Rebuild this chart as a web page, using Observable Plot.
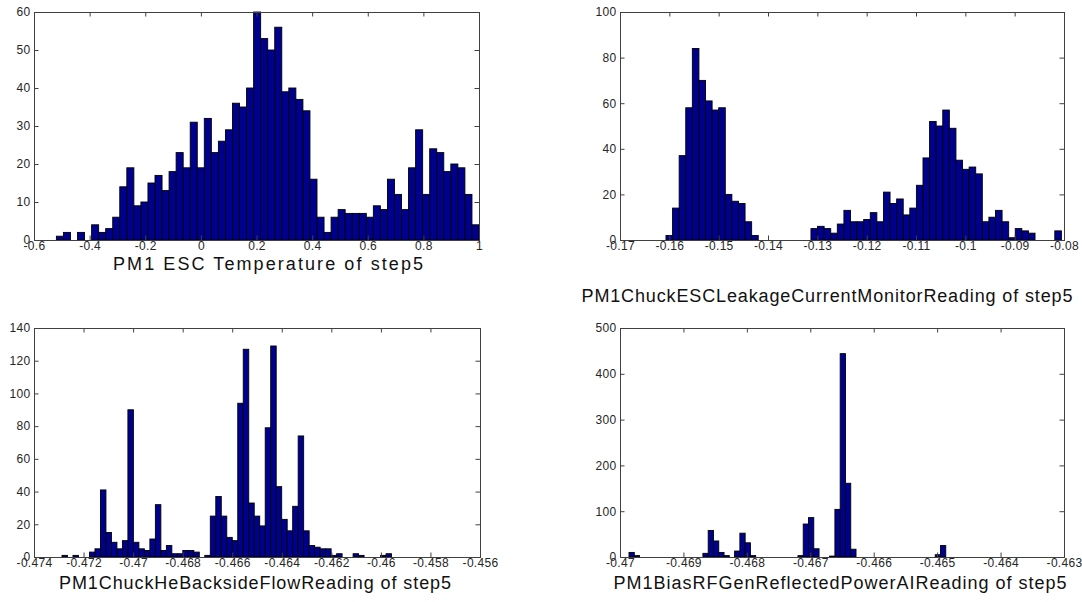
<!DOCTYPE html>
<html>
<head>
<meta charset="utf-8">
<script src="https://cdn.jsdelivr.net/npm/d3@7"></script>
<script src="https://cdn.jsdelivr.net/npm/@observablehq/plot@0.6"></script>
<style>
html, body { margin: 0; padding: 0; background: #fff; }
#chart { position: relative; width: 1082px; height: 602px; overflow: hidden; background: #fff; }
</style>
</head>
<body>
<div id="chart"></div>
<script>
// ---------- Panel 1: PM1 ESC Temperature ----------
const tempCounts = [1,2,0,2,0,4,2,3,6,14,19,9,10,15,17,13,18,23,19,31,19,32,23,26,29,36,35,40,60,53,50,56,39,40,37,34,16,6,2,6,8,7,7,7,6,9,8,16,12,8,19,29,12,24,23,18,20,19,12,4];
const tempBinRange = [-0.5195, 1.0];
const tempXDomain = [-0.6, 1];
const tempXTicks = [-0.6,-0.4,-0.2,0,0.2,0.4,0.6,0.8,1];
const tempXLabels = ["-0.6","-0.4","-0.2","0","0.2","0.4","0.6","0.8","1"];
const tempYTicks = [0,10,20,30,40,50,60];
const tempTitle = "PM1 ESC Temperature of step5";

// ---------- Panel 2: Leakage current ----------
const leakCounts = [2,14,37,58,84,70,61,57,58,20,17,16,8,2,0,0,0,0,0,0,0,0,5,6,5,3,7,13,8,8,9,12,8,21,16,18,11,14,24,36,52,50,57,49,35,31,32,29,8,10,13,8,1,5,4,3,0,0,0,4];
const leakBinRange = [-0.16068, -0.08053];
const leakXDomain = [-0.17, -0.08];
const leakXTicks = [-0.17,-0.16,-0.15,-0.14,-0.13,-0.12,-0.11,-0.10,-0.09,-0.08];
const leakXLabels = ["-0.17","-0.16","-0.15","-0.14","-0.13","-0.12","-0.11","-0.1","-0.09","-0.08"];
const leakYTicks = [0,20,40,60,80,100];
const leakTitle = "PM1ChuckESCLeakageCurrentMonitorReading of step5";

// ---------- Panel 3: He backside flow ----------
const flowCounts = [1,0,1,0,0,3,5,41,15,9,5,10,90,9,5,4,11,32,4,7,2,2,4,4,3,0,1,25,37,25,12,10,94,127,33,25,19,79,129,43,23,16,31,74,16,7,6,5,5,1,2,0,0,2,1,0,0,0,1,2];
const flowBinRange = [-0.47287, -0.45957];
const flowXDomain = [-0.474, -0.456];
const flowXTicks = [-0.474,-0.472,-0.470,-0.468,-0.466,-0.464,-0.462,-0.460,-0.458,-0.456];
const flowXLabels = ["-0.474","-0.472","-0.47","-0.468","-0.466","-0.464","-0.462","-0.46","-0.458","-0.456"];
const flowYTicks = [0,20,40,60,80,100,120,140];
const flowTitle = "PM1ChuckHeBacksideFlowReading of step5";

// ---------- Panel 4: Bias RF reflected power ----------
const rfCounts = [10,3,0,0,0,0,0,0,0,0,0,0,0,0,8,58,35,10,3,0,13,52,31,3,0,0,0,0,0,0,0,0,3,72,86,18,0,0,2,104,444,161,17,0,0,0,0,0,0,0,0,0,0,0,0,0,0,0,5,25];
const rfBinRange = [-0.469858, -0.464864];
const rfXDomain = [-0.47, -0.463];
const rfXTicks = [-0.470,-0.469,-0.468,-0.467,-0.466,-0.465,-0.464,-0.463];
const rfXLabels = ["-0.47","-0.469","-0.468","-0.467","-0.466","-0.465","-0.464","-0.463"];
const rfYTicks = [0,100,200,300,400,500];
const rfTitle = "PM1BiasRFGenReflectedPowerAIReading of step5";

// ---------- drawing ----------
const BAR = "#00008f";
const AX = "#404040";
const root = document.getElementById("chart");

function panel(p) {
  const mL = 42, mR = 24, mT = 8, mB = 22;
  const n = p.counts.length;
  const [lo, hi] = p.binRange;
  const rows = p.counts.map((c, i) => ({x1: lo + (hi - lo) * i / n, x2: lo + (hi - lo) * (i + 1) / n, count: c}));
  const t = 4.5;
  const svg = Plot.plot({
    width: p.w + mL + mR,
    height: p.h + mT + mB,
    marginLeft: mL, marginRight: mR, marginTop: mT, marginBottom: mB,
    x: {domain: p.xDomain},
    y: {domain: p.yDomain},
    style: {
      fontFamily: '"Liberation Sans", Arial, Helvetica, sans-serif',
      fontSize: "12px",
      letterSpacing: "0.3px",
      color: "#262626",
      background: "transparent",
      overflow: "visible"
    },
    marks: [
      Plot.rectY(rows, {x1: "x1", x2: "x2", y: "count", fill: BAR, stroke: "#000", strokeWidth: 0.9}),
      Plot.frame({stroke: AX}),
      Plot.ruleX(p.xTicks, {stroke: AX, insetTop: p.h - t}),
      Plot.ruleX(p.xTicks, {stroke: AX, insetBottom: p.h - t}),
      Plot.ruleY(p.yTicks, {stroke: AX, insetRight: p.w - t}),
      Plot.ruleY(p.yTicks, {stroke: AX, insetLeft: p.w - t}),
      Plot.axisX(p.xTicks, {tickSize: 0, tickPadding: 1, tickFormat: d => p.xLabels[p.xTicks.indexOf(d)], label: null}),
      Plot.axisY(p.yTicks, {tickSize: 0, tickPadding: 4, tickFormat: d => String(d), label: null})
    ]
  });
  svg.style.position = "absolute";
  svg.style.left = (p.left - mL) + "px";
  svg.style.top = (p.top - mT) + "px";
  root.appendChild(svg);
}

panel({counts: tempCounts, binRange: tempBinRange, xDomain: tempXDomain, yDomain: [0, 60],
       xTicks: tempXTicks, xLabels: tempXLabels, yTicks: tempYTicks, left: 34, top: 12, w: 445, h: 228});
panel({counts: leakCounts, binRange: leakBinRange, xDomain: leakXDomain, yDomain: [0, 100],
       xTicks: leakXTicks, xLabels: leakXLabels, yTicks: leakYTicks, left: 620, top: 12, w: 444, h: 228});
panel({counts: flowCounts, binRange: flowBinRange, xDomain: flowXDomain, yDomain: [0, 140],
       xTicks: flowXTicks, xLabels: flowXLabels, yTicks: flowYTicks, left: 34, top: 328, w: 446, h: 229});
panel({counts: rfCounts, binRange: rfBinRange, xDomain: rfXDomain, yDomain: [0, 500],
       xTicks: rfXTicks, xLabels: rfXLabels, yTicks: rfYTicks, left: 620, top: 328, w: 444, h: 229});

// x-axis titles (MATLAB xlabel)
const labels = d3.create("svg")
  .attr("width", 1082).attr("height", 602)
  .style("position", "absolute").style("left", "0px").style("top", "0px")
  .style("pointer-events", "none");
const titles = [
  {text: tempTitle, cx: 268, base: 270, len: 310},
  {text: leakTitle, cx: 827, base: 302, len: 491},
  {text: flowTitle, cx: 255, base: 589, len: 392},
  {text: rfTitle,   cx: 840, base: 589, len: 453}
];
labels.selectAll("text").data(titles).join("text")
  .attr("x", d => d.cx).attr("y", d => d.base)
  .attr("text-anchor", "middle")
  .attr("textLength", d => d.len)
  .attr("lengthAdjust", "spacing")
  .attr("font-family", '"Liberation Sans", Arial, Helvetica, sans-serif')
  .attr("font-size", 18)
  .attr("fill", "#111")
  .text(d => d.text);
root.appendChild(labels.node());
</script>
</body>
</html>
